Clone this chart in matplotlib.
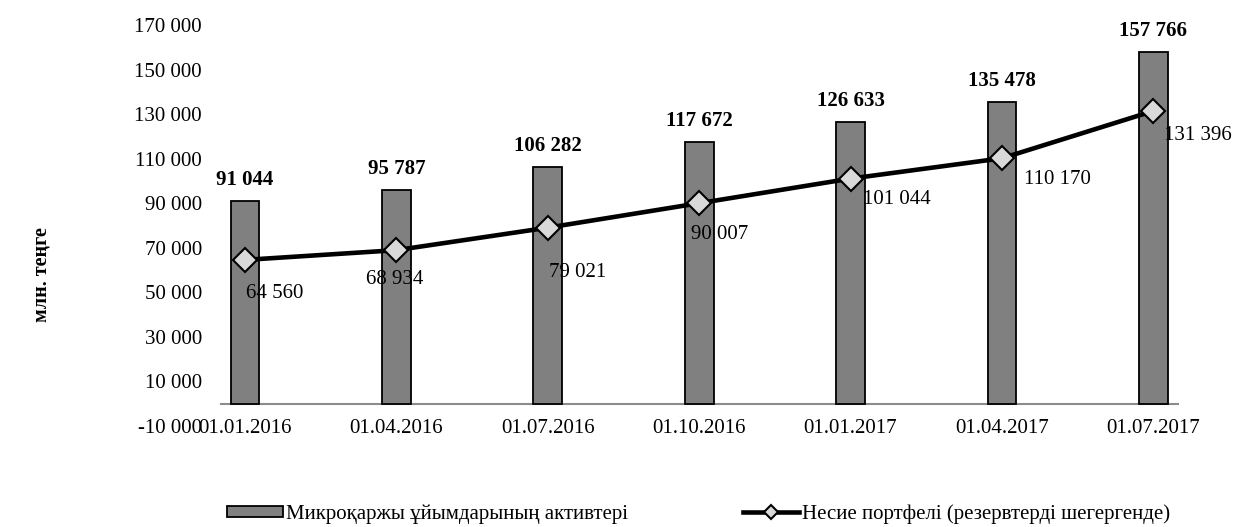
import matplotlib
matplotlib.use('Agg')
import matplotlib.pyplot as plt
import numpy as np

plt.rcParams['font.family'] = ['Liberation Serif', 'DejaVu Serif']
plt.rcParams['font.size'] = 15

# data
dates = ['01.01.2016', '01.04.2016', '01.07.2016', '01.10.2016',
         '01.01.2017', '01.04.2017', '01.07.2017']
assets = [91044, 95787, 106282, 117672, 126633, 135478, 157766]
portfolio = [64560, 68934, 79021, 90007, 101044, 110170, 131396]

assets_name = 'Микроқаржы ұйымдарының активтері'
portfolio_name = 'Несие портфелі (резервтерді шегергенде)'

# label offsets for the line values (pixels, from the marker)
line_lbl_off = [(30, -34), (-2, -29), (30, -45), (21, -31),
                (46, -21), (56, -21), (45, -24)]


def fmt(v):
    return '{:,}'.format(v).replace(',', ' ')


fig = plt.figure(figsize=(12.34, 5.27), dpi=100)
ax = fig.add_axes([220 / 1234, 1 - 426 / 527, (1179 - 220) / 1234, (426 - 25) / 527])

x = np.arange(len(dates))
bars = ax.bar(x, assets, width=0.19, color='#808080', edgecolor='black',
              linewidth=1.3, label=assets_name, zorder=2)
line, = ax.plot(x, portfolio, color='black', lw=3.3, marker='D', markersize=12,
                markerfacecolor='#d9d9d9', markeredgecolor='black', markeredgewidth=1.5,
                label=portfolio_name, zorder=3)
ax.axhline(0, color='#8c8c8c', lw=1.5, zorder=1)

for xi, v in zip(x, assets):
    ax.annotate(fmt(v), (xi, v), xytext=(0, 21), textcoords='offset pixels',
                ha='center', va='center', fontweight='bold', fontsize=15)
for xi, v, off in zip(x, portfolio, line_lbl_off):
    ax.annotate(fmt(v), (xi, v), xytext=off, textcoords='offset pixels',
                ha='center', va='center', fontsize=15, zorder=4)

ax.set_xlim(-0.165, 6.17)
ax.set_ylim(-10000, 170000)
yt = np.arange(-10000, 170001, 20000)
ax.set_yticks(yt)
ax.set_yticklabels([fmt(t) for t in yt])
ax.set_xticks(x)
ax.set_xticklabels(dates)
ax.tick_params(axis='y', length=0, pad=13)
ax.tick_params(axis='x', length=0, pad=-5)
for s in ax.spines.values():
    s.set_visible(False)

fig.text(42 / 1234, 1 - 275 / 527, 'млн. теңге', rotation=90, ha='center',
         va='center', fontweight='bold', fontsize=14.5)

fig.legend([bars, line], [assets_name, portfolio_name],
           loc='center left', bbox_to_anchor=(227 / 1234, 1 - 514 / 527),
           ncol=2, frameon=False, fontsize=15, handlelength=2.7, handleheight=0.5,
           markerscale=0.6, handletextpad=0.15, columnspacing=5.5,
           borderpad=0, borderaxespad=0)

fig.savefig('out.png', dpi=100)
